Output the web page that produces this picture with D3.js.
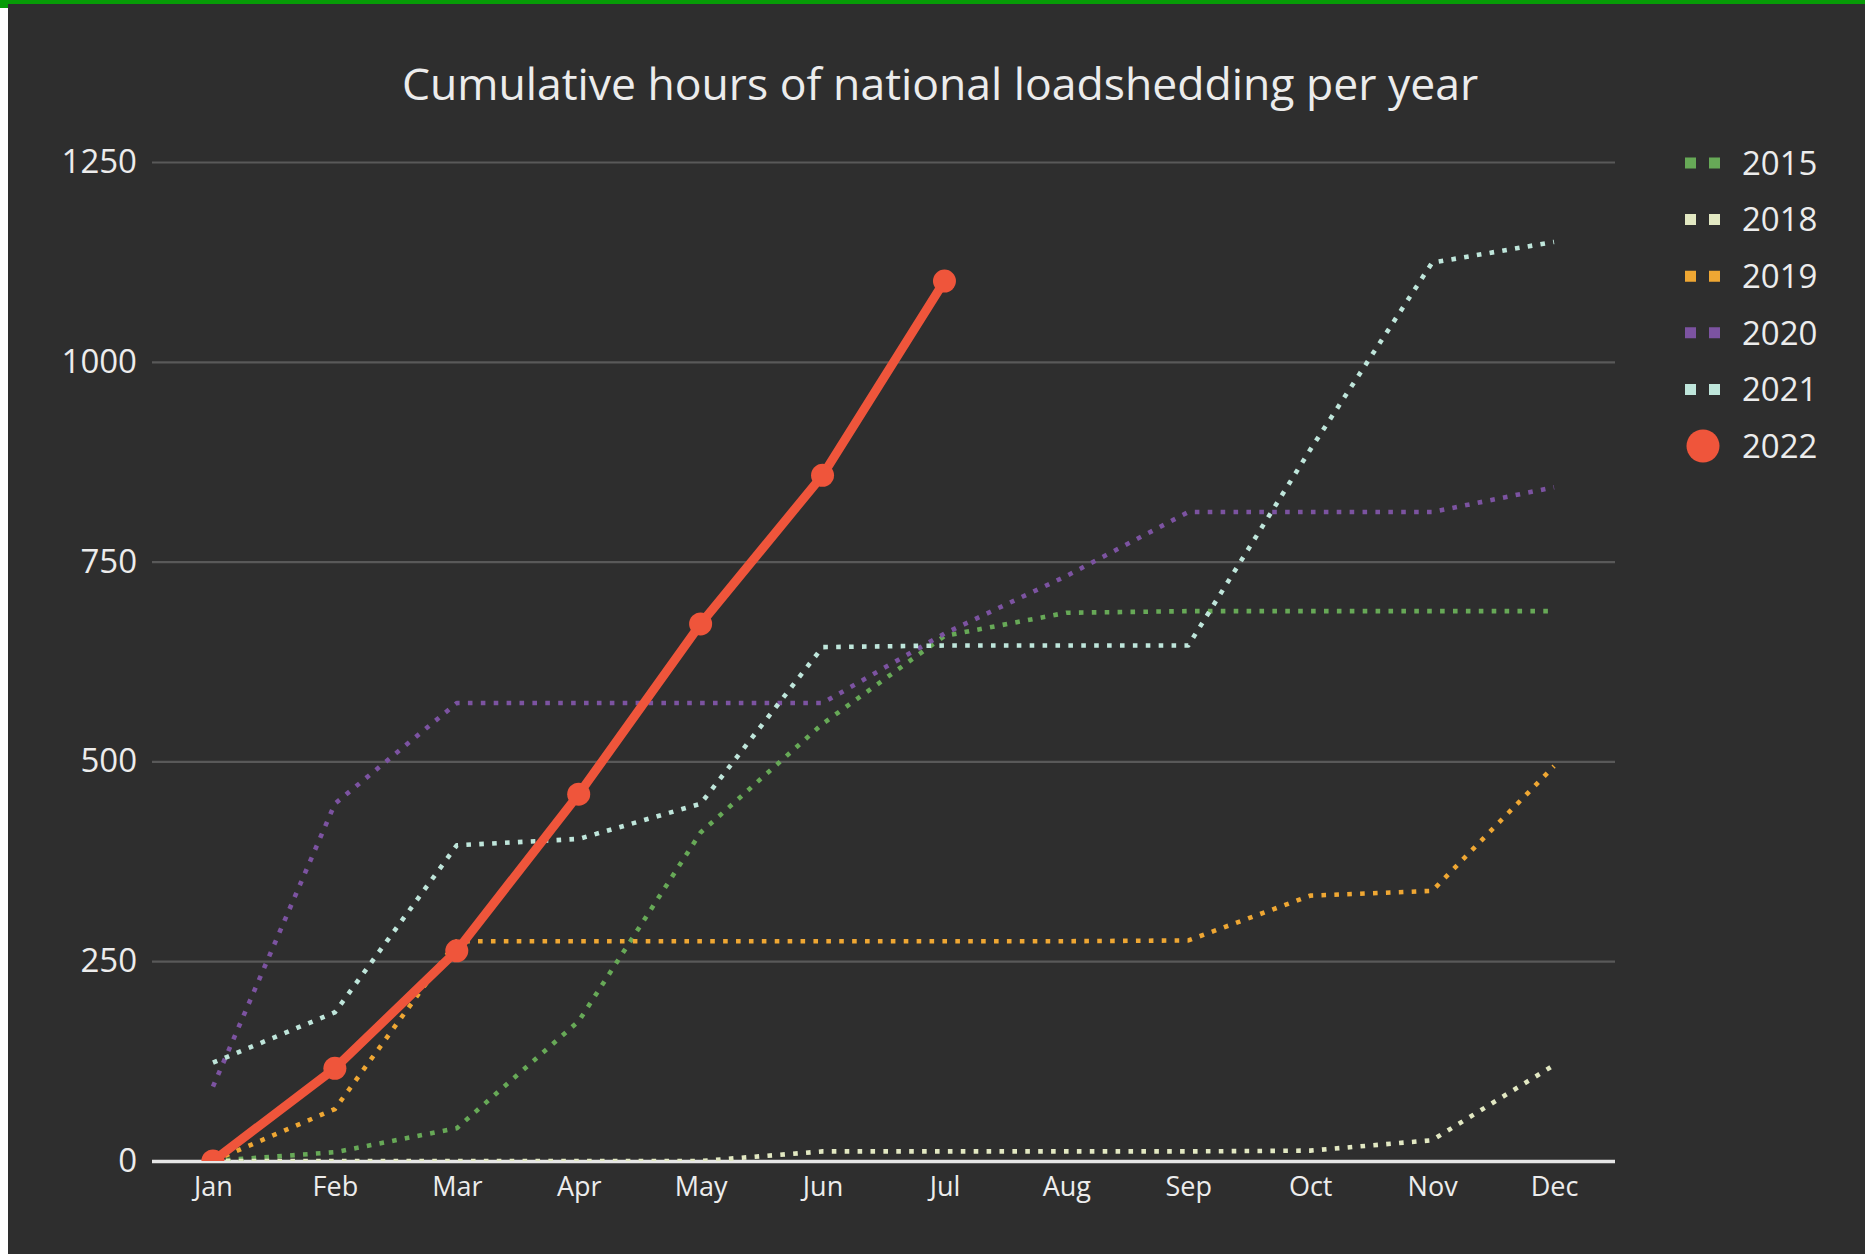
<!DOCTYPE html>
<html>
<head>
<meta charset="utf-8">
<script src="https://cdn.jsdelivr.net/npm/d3@7"></script>
<style>
  html, body { margin: 0; padding: 0; background: #2e2e2e; }
  svg { display: block; }
  text { font-family: "Open Sans", "DejaVu Sans", sans-serif; fill: #ececec; }
</style>
</head>
<body>
<svg id="chart"></svg>
<script>
// data
var months = ["Jan", "Feb", "Mar", "Apr", "May", "Jun", "Jul", "Aug", "Sep", "Oct", "Nov", "Dec"];
var years = ["2015", "2018", "2019", "2020", "2021", "2022"];

var hours2015 = [0, 11, 41, 175, 411, 547, 657, 686, 688, 688, 688, 688];
var hours2018 = [0, 0, 0, 0, 0, 12, 12, 12, 12, 13, 26, 120];
var hours2019 = [0, 65, 275, 275, 275, 275, 275, 275, 276, 332, 338, 494];
var hours2020 = [93, 447, 573, 573, 573, 573, 660, 732, 812, 812, 812, 843];
var hours2021 = [123, 186, 395, 403, 447, 643, 645, 645, 645, 890, 1124, 1150];
var hours2022 = [0, 116, 263, 459, 672, 858, 1101];

var yTicks = [0, 250, 500, 750, 1000, 1250];

var series = [
    { name: "2015", values: hours2015, color: "#67a957" },
    { name: "2018", values: hours2018, color: "#e2e8c2" },
    { name: "2019", values: hours2019, color: "#efa733" },
    { name: "2020", values: hours2020, color: "#7c53a1" },
    { name: "2021", values: hours2021, color: "#bfe6db" },
    { name: "2022", values: hours2022, color: "#ef553b" }
];

var width = 1865, height = 1254;
var plotLeft = 152, plotRight = 1615, plotTop = 162, plotBottom = 1161;

var svg = d3.select("#chart")
    .attr("width", width)
    .attr("height", height);

// page frame (green strip on top, white strip on the left)
svg.append("rect").attr("x", 0).attr("y", 0).attr("width", width).attr("height", height).attr("fill", "#2e2e2e");
svg.append("rect").attr("x", 0).attr("y", 0).attr("width", width).attr("height", 4).attr("fill", "#079b07");
svg.append("rect").attr("x", 0).attr("y", 4).attr("width", 8).attr("height", 4).attr("fill", "#079b07");
svg.append("rect").attr("x", 0).attr("y", 8).attr("width", 8).attr("height", height - 8).attr("fill", "#ffffff");

var x = d3.scalePoint()
    .domain(months)
    .range([plotLeft, plotRight])
    .padding(0.5);

var y = d3.scaleLinear()
    .domain([0, 1250])
    .range([plotBottom, plotTop]);

// grid + y labels
svg.append("g")
    .attr("transform", `translate(${plotLeft},0)`)
    .call(d3.axisLeft(y)
        .tickValues(yTicks)
        .tickFormat(d3.format("d"))
        .tickSize(-(plotRight - plotLeft))
        .tickPadding(15))
    .call(g => g.select(".domain").remove())
    .call(g => g.selectAll(".tick line")
        .attr("stroke", d => d === 0 ? "#e6e6e6" : "#595959")
        .attr("stroke-width", d => d === 0 ? 3.5 : 2.2))
    .call(g => g.selectAll(".tick text")
        .attr("font-size", 33)
        .attr("fill", "#ececec"));

// x labels
svg.append("g")
    .attr("transform", `translate(0,${plotBottom})`)
    .call(d3.axisBottom(x).tickSize(0).tickPadding(16))
    .call(g => g.select(".domain").remove())
    .call(g => g.selectAll(".tick text")
        .attr("font-size", 27)
        .attr("fill", "#ececec"));

svg.append("clipPath")
    .attr("id", "plotclip")
    .append("rect")
    .attr("x", plotLeft)
    .attr("y", plotTop - 40)
    .attr("width", plotRight - plotLeft)
    .attr("height", plotBottom - plotTop + 40);

var line = d3.line()
    .x((d, i) => x(months[i]))
    .y(d => y(d));

var traces = svg.append("g").attr("clip-path", "url(#plotclip)");

series.forEach(function (s) {
    var isCurrent = s.name === "2022";
    traces.append("path")
        .datum(s.values)
        .attr("fill", "none")
        .attr("stroke", s.color)
        .attr("stroke-width", isCurrent ? 9 : 4.6)
        .attr("stroke-dasharray", isCurrent ? null : "4.6,8.3")
        .attr("stroke-linejoin", "round")
        .attr("d", line);
    if (isCurrent) {
        traces.append("g")
            .selectAll("circle")
            .data(s.values)
            .join("circle")
            .attr("cx", (d, i) => x(months[i]))
            .attr("cy", d => y(d))
            .attr("r", 11.5)
            .attr("fill", s.color);
    }
});

// title
svg.append("text")
    .attr("x", 940)
    .attr("y", 100)
    .attr("text-anchor", "middle")
    .attr("font-size", 44.5)
    .attr("fill", "#f2f2f2")
    .text("Cumulative hours of national loadshedding per year");

// legend
var legend = svg.append("g").attr("transform", "translate(1685,163)");
var item = legend.selectAll("g")
    .data(series)
    .join("g")
    .attr("transform", (d, i) => `translate(0,${i * 56.6})`);

item.filter(d => d.name !== "2022")
    .append("line")
    .attr("x1", 0)
    .attr("x2", 36)
    .attr("y1", 0)
    .attr("y2", 0)
    .attr("stroke", d => d.color)
    .attr("stroke-width", 11)
    .attr("stroke-dasharray", "11,13");

item.filter(d => d.name === "2022")
    .append("circle")
    .attr("cx", 18)
    .attr("cy", 0)
    .attr("r", 16.5)
    .attr("fill", d => d.color);

item.append("text")
    .attr("x", 57)
    .attr("y", 0)
    .attr("dy", "0.36em")
    .attr("font-size", 33)
    .text(d => d.name);
</script>
</body>
</html>
